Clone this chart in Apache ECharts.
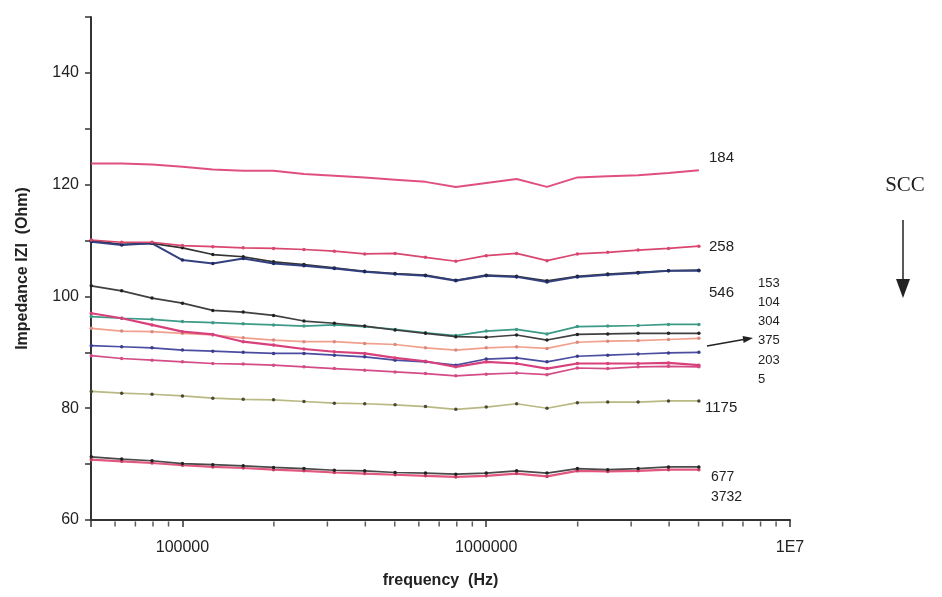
<!DOCTYPE html>
<html>
<head>
<meta charset="utf-8">
<script src="https://cdn.jsdelivr.net/npm/echarts@6/dist/echarts.min.js"></script>
<style>html,body{margin:0;padding:0;background:#fff;}#c{width:942px;height:597px;}</style>
</head>
<body>
<div id="c"></div>
<script>
// frequencies (Hz), ~10 points per decade
const freq = [50100, 63100, 79400, 100000, 125900, 158500, 199500, 251200, 316200, 398100, 501200, 631000, 794300, 1000000, 1259000, 1585000, 1995000, 2512000, 3162000, 3981000, 5012000];

// impedance |Z| (Ohm)
const s184   = [123.8, 123.8, 123.6, 123.2, 122.7, 122.5, 122.5, 121.9, 121.6, 121.3, 120.9, 120.5, 119.6, 120.3, 121.0, 119.6, 121.3, 121.5, 121.7, 122.1, 122.6];
const s258   = [110.1, 109.7, 109.7, 109.1, 108.9, 108.7, 108.6, 108.4, 108.1, 107.6, 107.7, 107.0, 106.3, 107.3, 107.7, 106.4, 107.6, 107.9, 108.3, 108.6, 109.0];
const s546   = [109.8, 109.2, 109.5, 106.5, 105.9, 106.8, 105.9, 105.5, 105.0, 104.4, 104.0, 103.7, 102.8, 103.7, 103.5, 102.6, 103.5, 103.9, 104.2, 104.6, 104.6];
const s546b  = [110.0, 109.3, 109.5, 108.7, 107.5, 107.1, 106.2, 105.7, 105.1, 104.5, 104.1, 103.8, 102.9, 103.8, 103.6, 102.8, 103.6, 104.0, 104.3, 104.6, 104.7];
const s153   = [101.9, 101.0, 99.7, 98.8, 97.5, 97.2, 96.6, 95.6, 95.2, 94.7, 94.0, 93.4, 92.8, 92.7, 93.1, 92.2, 93.2, 93.3, 93.4, 93.4, 93.4];
const s304   = [96.4, 96.1, 95.9, 95.5, 95.3, 95.1, 94.9, 94.7, 94.9, 94.6, 94.1, 93.5, 93.0, 93.8, 94.1, 93.3, 94.6, 94.7, 94.8, 95.0, 95.0];
const s375   = [94.3, 93.8, 93.7, 93.4, 93.1, 92.6, 92.2, 91.9, 91.9, 91.6, 91.4, 90.8, 90.4, 90.8, 91.0, 90.7, 91.8, 92.0, 92.1, 92.3, 92.5];
const s203   = [91.2, 91.0, 90.8, 90.4, 90.2, 90.0, 89.8, 89.8, 89.5, 89.2, 88.6, 88.3, 87.7, 88.8, 89.0, 88.3, 89.3, 89.5, 89.7, 89.9, 90.0];
const s104   = [97.0, 96.1, 94.9, 93.7, 93.2, 91.9, 91.3, 90.6, 90.1, 89.8, 89.0, 88.4, 87.4, 88.3, 88.0, 87.1, 88.0, 88.0, 88.0, 88.1, 87.7];
const s5     = [89.4, 88.9, 88.6, 88.3, 88.0, 87.9, 87.7, 87.4, 87.1, 86.8, 86.5, 86.2, 85.8, 86.1, 86.3, 86.0, 87.2, 87.1, 87.4, 87.5, 87.4];
const s1175  = [83.0, 82.7, 82.5, 82.2, 81.8, 81.6, 81.5, 81.2, 80.9, 80.8, 80.6, 80.3, 79.8, 80.2, 80.8, 80.0, 81.0, 81.1, 81.1, 81.3, 81.3];
const s677   = [71.3, 70.9, 70.6, 70.1, 69.9, 69.7, 69.4, 69.2, 68.9, 68.8, 68.5, 68.4, 68.2, 68.4, 68.8, 68.4, 69.2, 69.0, 69.2, 69.5, 69.5];
const s3732  = [70.8, 70.5, 70.2, 69.8, 69.5, 69.3, 69.0, 68.8, 68.5, 68.3, 68.1, 67.9, 67.7, 67.9, 68.3, 67.8, 68.8, 68.7, 68.8, 69.0, 69.0];

// minor log ticks on the frequency axis
const minorFreq = [60000, 70000, 80000, 90000, 200000, 300000, 400000, 500000, 600000, 700000, 800000, 900000, 2000000, 3000000, 4000000, 5000000, 6000000, 7000000, 8000000, 9000000];

const FONT = '"Liberation Sans", Arial, sans-serif';
const pair = arr => freq.map((f, i) => [f, arr[i]]);

function line(name, data, color, opts) {
  opts = opts || {};
  return {
    name: name, type: 'line', data: pair(data),
    showSymbol: opts.noSymbol ? false : true,
    symbol: 'circle', symbolSize: opts.symbolSize || 3.5,
    lineStyle: { color: color, width: opts.width || 1.7 },
    itemStyle: { color: opts.markColor || color },
    z: opts.z || 2,
    emphasis: { disabled: true },
    silent: true
  };
}

const series = [
  line('3732', s3732, '#e2577f', { markColor: '#c2405f', width: 2.2 }),
  line('677', s677, '#4a4a4a', { markColor: '#222' }),
  line('1175', s1175, '#b9b983', { markColor: '#4a4a3a' }),
  line('5', s5, '#d44c86', {}),
  line('203', s203, '#4b4ea0', { markColor: '#3a3d8a' }),
  line('375', s375, '#f2a08e', { markColor: '#d88a80' }),
  line('304', s304, '#3d9a87', {}),
  line('104', s104, '#d8407c', { width: 2.2 }),
  line('153', s153, '#404040', { markColor: '#222' }),
  line('546b', s546b, '#333333', { markColor: '#222' }),
  line('546', s546, '#33407e', { markColor: '#1e2a66', width: 2 }),
  line('258', s258, '#d9466e', {}),
  line('184', s184, '#e0507e', { noSymbol: true, width: 2 }),
  {
    name: 'minorTicks', type: 'scatter', data: minorFreq.map(f => [f, 60]),
    symbol: 'rect', symbolSize: [1.5, 5], symbolOffset: [0, 4],
    itemStyle: { color: '#333' }, clip: false, silent: true, z: 5
  }
];

const chart = echarts.init(document.getElementById('c'), null, { renderer: 'canvas' });
chart.setOption({
  animation: false,
  backgroundColor: '#ffffff',
  grid: { left: 91, right: 152, top: 17, bottom: 77, containLabel: false },
  xAxis: {
    type: 'log', logBase: 10, min: 50000, max: 10000000,
    name: 'frequency  (Hz)', nameLocation: 'middle', nameGap: 53,
    nameTextStyle: { fontFamily: FONT, fontSize: 16, fontWeight: 'bold', color: '#222' },
    axisLine: { lineStyle: { color: '#333', width: 2 } },
    axisTick: { length: 7, lineStyle: { color: '#333', width: 1.5 } },
    splitLine: { show: false },
    axisLabel: {
      margin: 20, fontFamily: FONT, fontSize: 16, color: '#222',
      formatter: function (v) {
        const l = Math.log10(v);
        if (Math.abs(l - Math.round(l)) > 1e-6) return '';
        const n = Math.round(l);
        if (n >= 7) return '1E' + n;
        return String(Math.round(v));
      }
    }
  },
  yAxis: {
    type: 'value', min: 60, max: 150, interval: 10,
    name: 'Impedance IZI  (Ohm)', nameLocation: 'middle', nameGap: 60, nameRotate: 90,
    nameTextStyle: { fontFamily: FONT, fontSize: 16, fontWeight: 'bold', color: '#222' },
    axisLine: { show: true, lineStyle: { color: '#333', width: 2 } },
    axisTick: { show: true, length: 6, lineStyle: { color: '#333', width: 1.5 } },
    splitLine: { show: false },
    axisLabel: {
      margin: 12, fontFamily: FONT, fontSize: 16, color: '#222',
      formatter: function (v) { return (v % 20 === 0 && v <= 140) ? String(v) : ''; }
    }
  },
  series: series,
  graphic: [
    { type: 'text', x: 709, y: 158, style: { text: '184', font: '15px ' + FONT, fill: '#222', verticalAlign: 'middle' } },
    { type: 'text', x: 709, y: 247, style: { text: '258', font: '15px ' + FONT, fill: '#222', verticalAlign: 'middle' } },
    { type: 'text', x: 709, y: 293, style: { text: '546', font: '15px ' + FONT, fill: '#222', verticalAlign: 'middle' } },
    { type: 'text', x: 758, y: 283, style: { text: '153', font: '13px ' + FONT, fill: '#222', verticalAlign: 'middle' } },
    { type: 'text', x: 758, y: 302, style: { text: '104', font: '13px ' + FONT, fill: '#222', verticalAlign: 'middle' } },
    { type: 'text', x: 758, y: 321, style: { text: '304', font: '13px ' + FONT, fill: '#222', verticalAlign: 'middle' } },
    { type: 'text', x: 758, y: 340, style: { text: '375', font: '13px ' + FONT, fill: '#222', verticalAlign: 'middle' } },
    { type: 'text', x: 758, y: 360, style: { text: '203', font: '13px ' + FONT, fill: '#222', verticalAlign: 'middle' } },
    { type: 'text', x: 758, y: 379, style: { text: '5', font: '13px ' + FONT, fill: '#222', verticalAlign: 'middle' } },
    { type: 'text', x: 705, y: 408, style: { text: '1175', font: '15px ' + FONT, fill: '#222', verticalAlign: 'middle' } },
    { type: 'text', x: 711, y: 477, style: { text: '677', font: '14px ' + FONT, fill: '#222', verticalAlign: 'middle' } },
    { type: 'text', x: 711, y: 497, style: { text: '3732', font: '14px ' + FONT, fill: '#222', verticalAlign: 'middle' } },
    { type: 'text', x: 905, y: 185, style: { text: 'SCC', font: '21px "Liberation Serif", "Times New Roman", serif', fill: '#222', align: 'center', verticalAlign: 'middle' } },
    { type: 'line', shape: { x1: 903, y1: 220, x2: 903, y2: 284 }, style: { stroke: '#222', lineWidth: 1.5 } },
    { type: 'polygon', shape: { points: [[896, 279], [910, 279], [903, 298]] }, style: { fill: '#222' } },
    { type: 'line', shape: { x1: 707, y1: 346, x2: 745, y2: 339.2 }, style: { stroke: '#222', lineWidth: 1.5 } },
    { type: 'polygon', shape: { points: [[753, 338], [743.6, 342.9], [742.6, 336.0]] }, style: { fill: '#222' } }
  ]
});
</script>
</body>
</html>
